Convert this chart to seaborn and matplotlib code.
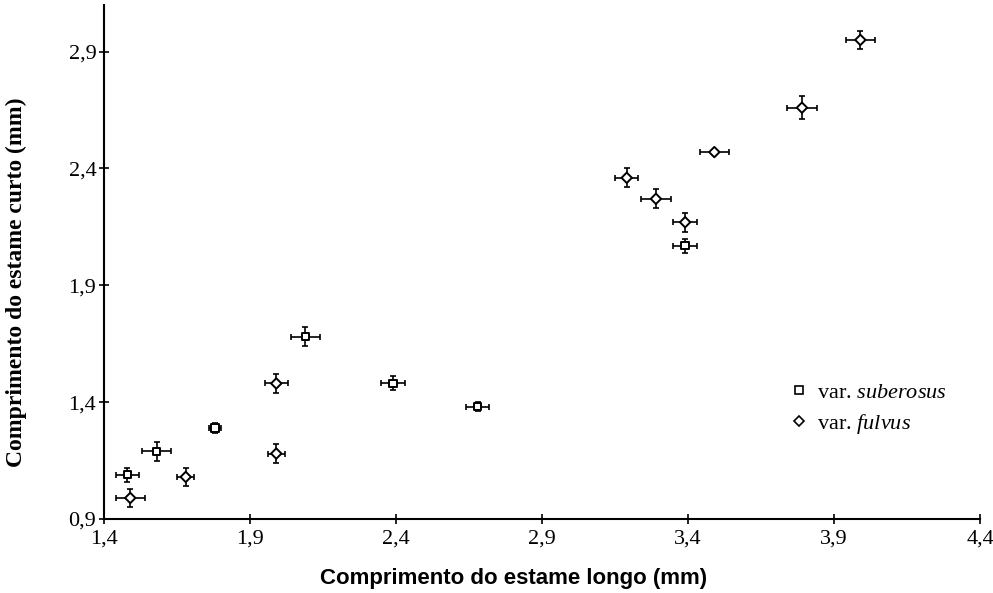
import matplotlib
matplotlib.use("Agg")
import matplotlib.pyplot as plt
import seaborn as sns
import pandas as pd
import numpy as np
from matplotlib.lines import Line2D

# --- data ---
sub_x = [1.48, 1.58, 1.78, 2.09, 2.39, 2.68, 3.39]
sub_y = [1.09, 1.19, 1.29, 1.68, 1.48, 1.38, 2.07]
sub_xerr = [0.04, 0.05, 0.02, 0.05, 0.04, 0.04, 0.04]
sub_yerr = [0.03, 0.04, 0.02, 0.04, 0.03, 0.02, 0.03]

ful_x = [1.49, 1.68, 1.99, 1.99, 3.19, 3.29, 3.39, 3.49, 3.79, 3.99]
ful_y = [0.99, 1.08, 1.18, 1.48, 2.36, 2.27, 2.17, 2.47, 2.66, 2.95]
ful_xerr = [0.05, 0.03, 0.03, 0.04, 0.04, 0.05, 0.04, 0.05, 0.05, 0.05]
ful_yerr = [0.04, 0.04, 0.04, 0.04, 0.04, 0.04, 0.04, 0.01, 0.05, 0.04]

xticks = [1.4, 1.9, 2.4, 2.9, 3.4, 3.9, 4.4]
yticks = [0.9, 1.4, 1.9, 2.4, 2.9]
xlabel = "Comprimento do estame longo (mm)"
ylabel = "Comprimento do estame curto (mm)"
labels = ["var. $\\mathit{suberosus}$", "var. $\\mathit{fulvus}$"]

sns.set_theme(style="ticks")
plt.rcParams['font.family'] = ['Liberation Serif', 'DejaVu Serif']
plt.rcParams['mathtext.fontset'] = 'custom'
plt.rcParams['mathtext.rm'] = 'Liberation Serif'
plt.rcParams['mathtext.it'] = 'Liberation Serif:italic'
plt.rcParams['text.color'] = 'black'
plt.rcParams['axes.labelcolor'] = 'black'

df = pd.DataFrame({
    "x": sub_x + ful_x,
    "y": sub_y + ful_y,
    "var": ["s"] * len(sub_x) + ["f"] * len(ful_x),
})

fig = plt.figure(figsize=(9.93, 5.93), dpi=100)
ax = fig.add_axes([0.1047, 0.1248, 0.8823, 0.867])

ax.errorbar(sub_x, sub_y, xerr=sub_xerr, yerr=sub_yerr, fmt='none',
            ecolor='black', elinewidth=1.2, capsize=2.2, capthick=1.2, zorder=2)
ax.errorbar(ful_x, ful_y, xerr=ful_xerr, yerr=ful_yerr, fmt='none',
            ecolor='black', elinewidth=1.2, capsize=2.2, capthick=1.2, zorder=2)

sns.scatterplot(data=df, x="x", y="y", style="var", markers={"s": "s", "f": "D"},
                s=28, facecolor="white", edgecolor="black", linewidth=1.4,
                legend=False, ax=ax, zorder=3)

ax.set_xlim(1.4, 4.4)
ax.set_ylim(0.9, 3.1)
ax.set_xticks(xticks)
ax.set_yticks(yticks)
ax.set_xticklabels([f"{t:.1f}".replace('.', ',') for t in xticks])
ax.set_yticklabels([f"{t:.1f}".replace('.', ',') for t in yticks])
ax.tick_params(direction='inout', length=7, width=1.2, labelsize=16, colors='black')
ax.tick_params(axis='x', pad=4)
ax.tick_params(axis='y', pad=2)
for s in ['top', 'right']:
    ax.spines[s].set_visible(False)
for s in ['left', 'bottom']:
    ax.spines[s].set_linewidth(1.5)
    ax.spines[s].set_color('black')

ax.set_xlabel(xlabel, fontsize=16, fontweight='bold', color='black',
              family=['Liberation Sans Narrow', 'Liberation Sans', 'DejaVu Sans'], labelpad=13)
ax.set_ylabel(ylabel, fontsize=17, fontweight='bold', color='black', labelpad=18)
ax.yaxis.set_label_coords(-0.088, 0.46)
ax.xaxis.set_label_coords(0.467, -0.095)

handles = [
    Line2D([], [], marker='s', linestyle='none', markerfacecolor='white',
           markeredgecolor='black', markersize=6, markeredgewidth=1.2),
    Line2D([], [], marker='D', linestyle='none', markerfacecolor='white',
           markeredgecolor='black', markersize=5, markeredgewidth=1.2),
]
leg = ax.legend(handles, labels, loc='upper left', bbox_to_anchor=(0.755, 0.305),
                frameon=False, fontsize=16, handletextpad=0.2, labelspacing=0.4,
                handlelength=1.2)
for t in leg.get_texts():
    t.set_color('black')

fig.savefig("out.png", dpi=100)
